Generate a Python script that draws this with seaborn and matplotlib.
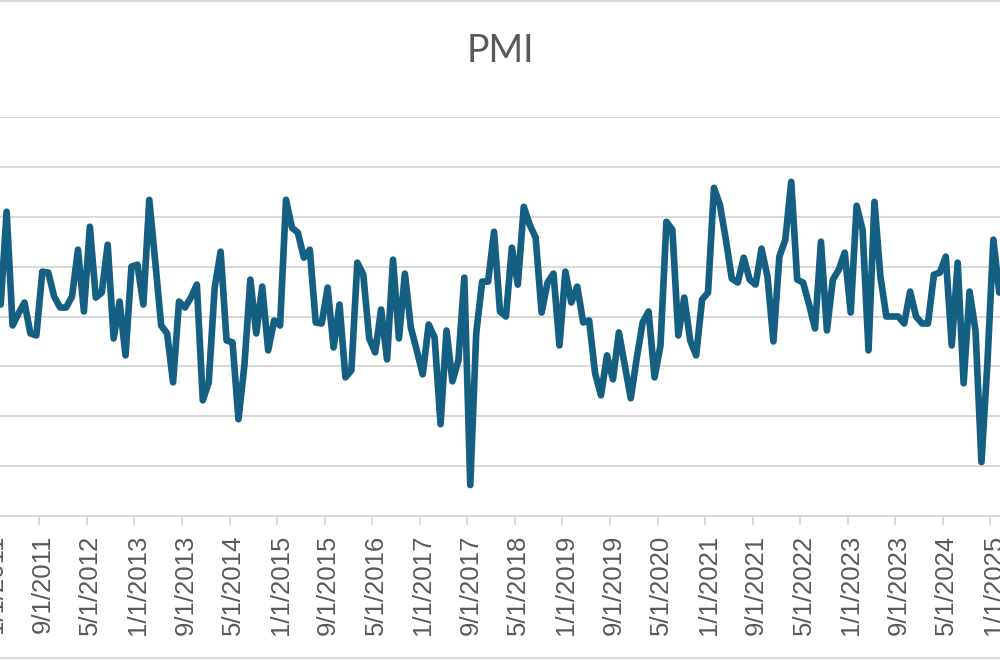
import pandas as pd
import seaborn as sns
import matplotlib.pyplot as plt
from matplotlib.lines import Line2D
from matplotlib.transforms import ScaledTranslation

# PMI monthly readings, Jan 2011 .. Mar 2025
pmi_2011 = [60.2, 51.2, 60.5, 49.1, 50.3, 51.4, 48.3, 48.1, 54.5, 54.4, 52.0, 50.9]
pmi_2012 = [50.9, 52.0, 56.7, 50.5, 59.0, 51.9, 52.4, 57.2, 47.8, 51.5, 46.1, 55.0]
pmi_2013 = [55.2, 51.2, 61.7, 55.5, 49.1, 48.3, 43.4, 51.5, 50.9, 51.9, 53.2, 41.6]
pmi_2014 = [43.4, 52.9, 56.5, 47.6, 47.4, 39.7, 45.1, 53.7, 48.3, 53.0, 46.6, 49.6]
pmi_2015 = [49.1, 61.7, 58.9, 58.4, 55.9, 56.7, 49.4, 49.3, 52.9, 46.9, 51.2, 43.9]
pmi_2016 = [44.6, 55.4, 54.2, 47.8, 46.4, 50.7, 45.7, 55.7, 47.8, 54.3, 48.9, 46.6]
pmi_2017 = [44.2, 49.2, 47.9, 39.2, 48.6, 43.5, 45.6, 53.9, 33.1, 48.3, 53.5, 53.5]
pmi_2018 = [58.5, 50.5, 50.0, 56.9, 53.2, 61.0, 59.2, 57.9, 50.4, 53.4, 54.3, 47.1]
pmi_2019 = [54.5, 51.4, 53.0, 49.4, 49.6, 44.3, 42.1, 46.1, 43.7, 48.4, 45.1, 41.8]
pmi_2020 = [45.8, 49.4, 50.5, 43.9, 47.1, 59.5, 58.7, 48.1, 51.9, 47.6, 46.1, 51.7]
pmi_2021 = [52.4, 62.9, 61.2, 57.7, 53.8, 53.4, 55.9, 53.7, 53.2, 56.8, 54.0, 47.5]
pmi_2022 = [56.0, 57.7, 63.5, 53.7, 53.4, 51.2, 48.8, 57.5, 48.6, 53.7, 54.7, 56.4]
pmi_2023 = [50.4, 61.1, 58.7, 46.6, 61.5, 54.0, 50.0, 50.0, 50.0, 49.3, 52.5, 50.0]
pmi_2024 = [49.3, 49.3, 54.2, 54.4, 56.0, 47.1, 55.4, 43.3, 52.5, 48.6, 35.4, 45.3]
pmi_2025 = [57.7, 52.4, 52.7]

tick_labels = ['1/1/2011', '9/1/2011', '5/1/2012', '1/1/2013', '9/1/2013',
               '5/1/2014', '1/1/2015', '9/1/2015', '5/1/2016', '1/1/2017',
               '9/1/2017', '5/1/2018', '1/1/2019', '9/1/2019', '5/1/2020',
               '1/1/2021', '9/1/2021', '5/1/2022', '1/1/2023', '9/1/2023',
               '5/1/2024', '1/1/2025']

values = (pmi_2011 + pmi_2012 + pmi_2013 + pmi_2014 + pmi_2015 + pmi_2016
          + pmi_2017 + pmi_2018 + pmi_2019 + pmi_2020 + pmi_2021 + pmi_2022
          + pmi_2023 + pmi_2024 + pmi_2025)
df = pd.DataFrame({'month': range(len(values)), 'pmi': values})

sns.set_theme(style='white')
plt.rcParams['font.family'] = ['Liberation Sans', 'DejaVu Sans']

fig = plt.figure(figsize=(10, 6.6), dpi=100)
# plot area runs past both picture edges (the original is a crop)
ax = fig.add_axes([-0.02, 144 / 660, 1.04, 399 / 660])

sns.lineplot(data=df, x='month', y='pmi', ax=ax, color='#156082',
             linewidth=4.8, solid_joinstyle='round', solid_capstyle='round')

# month points sit between tick marks, ticks every 8 months
ax.set_xticks([i * 8 - 0.5 for i in range(len(tick_labels))])
ax.set_xticklabels(tick_labels, rotation=90, color='#595959', fontsize=18.5)
x0 = 0.883          # month index at the picture's left edge
px_month = 5.944    # pixels per month
ax.set_xlim(x0 - 20 / px_month, x0 + 1020 / px_month)
ax.set_yticks([30, 35, 40, 45, 50, 55, 60, 65, 70])
ax.set_yticklabels([])
ax.set_ylim(30, 70)
ax.tick_params(axis='x', length=6.5, width=1.3, color='#d9d9d9', pad=7,
               direction='out', bottom=True)
ax.tick_params(axis='y', length=0)
ax.yaxis.grid(True, color='#d9d9d9', linewidth=1.4)
ax.xaxis.grid(False)
ax.set_xlabel('')
ax.set_ylabel('')
for side in ['top', 'left', 'right']:
    ax.spines[side].set_visible(False)
ax.spines['bottom'].set_color('#d9d9d9')
ax.spines['bottom'].set_linewidth(1.4)

# Excel puts the rotated labels a little right of the tick
shift = ScaledTranslation(3.5 / 100, 0, fig.dpi_scale_trans)
for lab in ax.get_xticklabels():
    lab.set_transform(lab.get_transform() + shift)

fig.text(0.5, 1 - 51 / 660, 'PMI', ha='center', va='center',
         fontsize=27, color='#595959', family=['Lato', 'DejaVu Sans'])

# chart border (top and bottom edges visible in the crop)
for yy in [1 - 1 / 660, 1 - 658 / 660]:
    fig.add_artist(Line2D([0, 1], [yy, yy], transform=fig.transFigure,
                          color='#d9d9d9', linewidth=1.5))

fig.savefig('out.png', dpi=100)
